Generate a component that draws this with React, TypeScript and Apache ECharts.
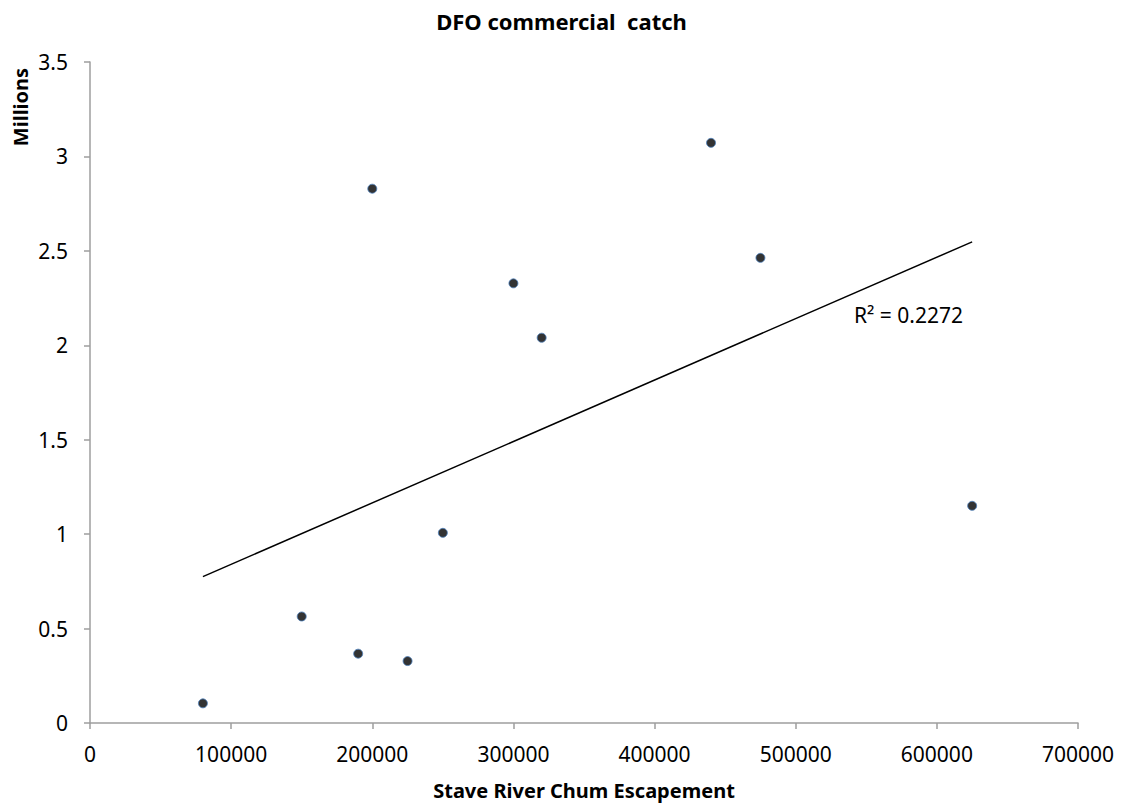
import React, { useEffect, useRef } from "react";
import * as echarts from "echarts";

const titleText = "DFO commercial  catch";
const xAxisName = "Stave River Chum Escapement";
const yAxisName = "Millions";
const r2Label = "R² = 0.2272";

const escapement = [80000, 150000, 190000, 225000, 250000, 200000, 300000, 320000, 440000, 475000, 625000];
const catchMillions = [0.104, 0.564, 0.367, 0.328, 1.007, 2.829, 2.328, 2.04, 3.072, 2.463, 1.15];

const xTicks = { min: 0, max: 700000, interval: 100000 };
const yTicks = { min: 0, max: 3.5, interval: 0.5 };

function linearFit(xs: number[], ys: number[]) {
  const n = xs.length;
  const mx = xs.reduce((a, b) => a + b, 0) / n;
  const my = ys.reduce((a, b) => a + b, 0) / n;
  let sxy = 0;
  let sxx = 0;
  for (let i = 0; i < n; i++) {
    sxy += (xs[i] - mx) * (ys[i] - my);
    sxx += (xs[i] - mx) * (xs[i] - mx);
  }
  const slope = sxy / sxx;
  const intercept = my - slope * mx;
  return { slope, intercept };
}

export default function App() {
  const ref = useRef<HTMLDivElement>(null);

  useEffect(() => {
    if (!ref.current) return;
    const chart = echarts.init(ref.current, undefined, { renderer: "svg" });
    const fit = linearFit(escapement, catchMillions);
    const xMin = Math.min(...escapement);
    const xMax = Math.max(...escapement);
    const trend = [
      [xMin, fit.intercept + fit.slope * xMin],
      [xMax, fit.intercept + fit.slope * xMax],
    ];
    const font = "'Noto Sans', 'Open Sans', sans-serif";

    chart.setOption({
      animation: false,
      backgroundColor: "#ffffff",
      textStyle: { fontFamily: font },
      title: {
        text: titleText,
        left: "center",
        top: 5,
        textStyle: { fontFamily: font, fontSize: 22, fontWeight: "bold", color: "#000" },
      },
      grid: {
        left: 90,
        right: 45,
        top: 62,
        bottom: 82,
        containLabel: false,
        outerBoundsMode: "none",
      },
      xAxis: {
        type: "value",
        min: xTicks.min,
        max: xTicks.max,
        interval: xTicks.interval,
        name: xAxisName,
        nameLocation: "middle",
        nameGap: 57,
        nameTextStyle: { fontFamily: font, fontSize: 20, fontWeight: "bold", color: "#000" },
        axisLine: { show: true, onZero: false, lineStyle: { color: "#9e9e9e", width: 1.5 } },
        axisTick: { show: true, length: 6, lineStyle: { color: "#9e9e9e", width: 1.5 } },
        axisLabel: {
          margin: 20,
          fontFamily: font,
          fontSize: 21,
          color: "#000",
          formatter: (v: number) => String(v),
        },
        splitLine: { show: false },
      },
      yAxis: {
        type: "value",
        min: yTicks.min,
        max: yTicks.max,
        interval: yTicks.interval,
        axisLine: { show: true, onZero: false, lineStyle: { color: "#9e9e9e", width: 1.5 } },
        axisTick: { show: true, length: 6, lineStyle: { color: "#9e9e9e", width: 1.5 } },
        axisLabel: {
          margin: 22,
          fontFamily: font,
          fontSize: 21,
          color: "#000",
          formatter: (v: number) => String(v),
        },
        splitLine: { show: false },
      },
      graphic: [
        {
          type: "text",
          x: 20,
          y: 107,
          rotation: Math.PI / 2,
          style: {
            text: yAxisName,
            fill: "#000",
            font: `bold 20px ${font}`,
            align: "center",
            verticalAlign: "middle",
          },
        },
        {
          type: "text",
          x: 854,
          y: 315,
          style: {
            text: r2Label,
            fill: "#000",
            font: `21px ${font}`,
            align: "left",
            verticalAlign: "middle",
          },
        },
      ],
      series: [
        {
          type: "line",
          data: trend,
          symbol: "none",
          lineStyle: { color: "#000", width: 1.5 },
          silent: true,
          z: 1,
        },
        {
          type: "scatter",
          data: escapement.map((x, i) => [x, catchMillions[i]]),
          symbol: "circle",
          symbolSize: 9,
          itemStyle: { color: "#000", borderColor: "#4a7ebb", borderWidth: 1 },
          z: 3,
        },
      ],
    });

    return () => chart.dispose();
  }, []);

  return (
    <div
      ref={ref}
      style={{ position: "fixed", left: 0, top: 0, width: 1123, height: 805, background: "#fff" }}
    />
  );
}
